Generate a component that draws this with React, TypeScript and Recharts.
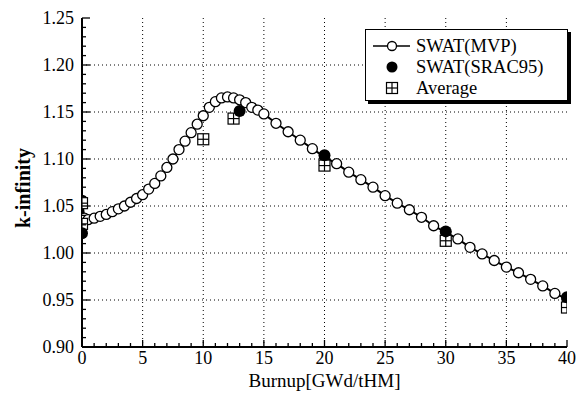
import React from "react";
import { ComposedChart, Line, Scatter, XAxis, YAxis, ReferenceLine } from "recharts";

const FONT = '"Liberation Serif", "Times New Roman", serif';

// SWAT(MVP) burnup curve
const mvpBurnup = [
  0, 0.2, 0.5, 1, 1.5, 2, 2.5, 3, 3.5, 4, 4.5, 5, 5.5, 6, 6.5, 7, 7.5, 8, 8.5, 9, 9.5, 10,
  10.5, 11, 11.5, 12, 12.5, 13, 13.5, 14, 14.5, 15, 16, 17, 18, 19, 20, 21, 22, 23, 24, 25,
  26, 27, 28, 29, 30, 31, 32, 33, 34, 35, 36, 37, 38, 39, 40,
];
const mvpK = [
  1.056, 1.037, 1.0355, 1.037, 1.039, 1.041, 1.044, 1.047, 1.05, 1.054, 1.058, 1.062, 1.068,
  1.074, 1.082, 1.091, 1.1, 1.11, 1.119, 1.128, 1.137, 1.146, 1.155, 1.161, 1.165, 1.166,
  1.165, 1.163, 1.16, 1.155, 1.152, 1.148, 1.138, 1.129, 1.12, 1.111, 1.102, 1.095, 1.086,
  1.078, 1.07, 1.061, 1.053, 1.046, 1.038, 1.029, 1.022, 1.015, 1.006, 0.999, 0.992, 0.985,
  0.979, 0.972, 0.965, 0.957, 0.951,
];

// SWAT(SRAC95)
const sracBurnup = [0, 13, 20, 30, 40];
const sracK = [1.021, 1.151, 1.104, 1.023, 0.953];

// Average
const avgBurnup = [0, 0, 10, 12.5, 20, 30, 40];
const avgK = [1.053, 1.031, 1.121, 1.143, 1.093, 1.013, 0.942];

const xMajor = [0, 5, 10, 15, 20, 25, 30, 35, 40];
const yMajor = [0.9, 0.95, 1.0, 1.05, 1.1, 1.15, 1.2, 1.25];
const xTicks = Array.from({ length: 41 }, (_, i) => i);
const yTicks = Array.from({ length: 36 }, (_, i) => (90 + i) / 100);

const mvpData = mvpBurnup.map((b, i) => ({ burnup: b, k: mvpK[i] }));
const sracData = sracBurnup.map((b, i) => ({ burnup: b, k: sracK[i] }));
const avgData = avgBurnup.map((b, i) => ({ burnup: b, k: avgK[i] }));

const isXMajor = (v: number) => v % 5 === 0;
const isYMajor = (v: number) => Math.round(v * 100) % 5 === 0;

const BottomTick = ({ x, y, payload }: any) => {
  const major = isXMajor(payload.value);
  return (
    <g>
      <line x1={x} x2={x} y1={y} y2={y - (major ? 7 : 4)} stroke="#000" strokeWidth={1.3} />
      {major && (
        <text x={x} y={y + 17} textAnchor="middle" fontSize={18} fontFamily={FONT} fill="#000">
          {payload.value}
        </text>
      )}
    </g>
  );
};

const TopTick = ({ x, y, payload }: any) => (
  <line x1={x} x2={x} y1={y} y2={y + (isXMajor(payload.value) ? 7 : 4)} stroke="#000" strokeWidth={1.3} />
);

const LeftTick = ({ x, y, payload }: any) => {
  const major = isYMajor(payload.value);
  return (
    <g>
      <line x1={x} x2={x + (major ? 8 : 4)} y1={y} y2={y} stroke="#000" strokeWidth={1.3} />
      {major && (
        <text x={x - 8} y={y + 6} textAnchor="end" fontSize={18} fontFamily={FONT} fill="#000">
          {payload.value.toFixed(2)}
        </text>
      )}
    </g>
  );
};

const RightTick = ({ x, y, payload }: any) => (
  <line x1={x} x2={x - (isYMajor(payload.value) ? 8 : 4)} y1={y} y2={y} stroke="#000" strokeWidth={1.3} />
);

const FilledDot = ({ cx, cy }: any) => <circle cx={cx} cy={cy} r={6} fill="#000" />;

const GridSquare = ({ cx, cy }: any) => {
  const h = 5.5;
  return (
    <g stroke="#000" strokeWidth={1.2}>
      <rect x={cx - h} y={cy - h} width={h * 2} height={h * 2} fill="#fff" />
      <line x1={cx - h} x2={cx + h} y1={cy} y2={cy} />
      <line x1={cx} x2={cx} y1={cy - h} y2={cy + h} />
    </g>
  );
};

function LegendBox() {
  return (
    <div
      style={{
        position: "absolute",
        left: 365,
        top: 29,
        width: 203,
        height: 72,
        border: "1.5px solid #000",
        boxShadow: "3px 3px 0 #000",
        background: "#fff",
        boxSizing: "border-box",
      }}
    >
      <svg width={200} height={69} style={{ display: "block" }}>
        <line x1={7} x2={44} y1={16} y2={16} stroke="#000" strokeWidth={1.5} />
        <circle cx={26} cy={16} r={4.5} fill="#fff" stroke="#000" strokeWidth={1.3} />
        <text x={50} y={22} fontSize={18.5} fontFamily={FONT}>SWAT(MVP)</text>
        <circle cx={26} cy={37} r={5.5} fill="#000" />
        <text x={50} y={43} fontSize={18.5} fontFamily={FONT}>SWAT(SRAC95)</text>
        <GridSquare cx={26} cy={58} />
        <text x={50} y={64} fontSize={18.5} fontFamily={FONT}>Average</text>
      </svg>
    </div>
  );
}

export default function App() {
  return (
    <div style={{ position: "absolute", left: 0, top: 0, width: 585, height: 398, background: "#fff" }}>
      <ComposedChart width={585} height={398} margin={{ top: 18, right: 18, bottom: 0, left: 0 }}>
        <XAxis
          dataKey="burnup"
          type="number"
          domain={[0, 40]}
          ticks={xTicks}
          interval={0}
          height={51}
          tickSize={0}
          tickMargin={0}
          tickLine={false}
          tick={BottomTick}
          axisLine={{ stroke: "#000", strokeWidth: 2 }}
          allowDataOverflow
          label={{
            content: ({ viewBox }: any) => (
              <text
                x={viewBox.x + viewBox.width / 2}
                y={viewBox.y + 40}
                textAnchor="middle"
                fontSize={19}
                fontFamily={FONT}
                fill="#000"
              >
                Burnup[GWd/tHM]
              </text>
            ),
          }}
        />
        <XAxis
          xAxisId="top"
          orientation="top"
          type="number"
          domain={[0, 40]}
          ticks={xTicks}
          interval={0}
          height={0}
          tickSize={0}
          tickMargin={0}
          tickLine={false}
          tick={TopTick}
          axisLine={{ stroke: "#000", strokeWidth: 2 }}
          allowDataOverflow
        />
        <YAxis
          dataKey="k"
          type="number"
          domain={[0.9, 1.25]}
          ticks={yTicks}
          interval={0}
          width={82}
          tickSize={0}
          tickMargin={0}
          tickLine={false}
          tick={LeftTick}
          axisLine={{ stroke: "#000", strokeWidth: 2 }}
          allowDataOverflow
          label={{
            content: () => (
              <text
                x={23}
                y={188}
                transform="rotate(-90 23 188)"
                textAnchor="middle"
                dominantBaseline="central"
                fontSize={20}
                fontWeight="bold"
                fontFamily={FONT}
                fill="#000"
              >
                k-infinity
              </text>
            ),
          }}
        />
        <YAxis
          yAxisId="right"
          orientation="right"
          type="number"
          domain={[0.9, 1.25]}
          ticks={yTicks}
          interval={0}
          width={0}
          tickSize={0}
          tickMargin={0}
          tickLine={false}
          tick={RightTick}
          axisLine={{ stroke: "#000", strokeWidth: 2 }}
          allowDataOverflow
        />
        {xMajor.slice(1, -1).map((v) => (
          <ReferenceLine key={"vx" + v} x={v} stroke="#000" strokeWidth={1} strokeDasharray="1 3" />
        ))}
        {yMajor.slice(1, -1).map((v) => (
          <ReferenceLine key={"hy" + v} y={v} stroke="#000" strokeWidth={1} strokeDasharray="1 3" />
        ))}
        <Line
          data={mvpData}
          dataKey="k"
          type="linear"
          stroke="#000"
          strokeWidth={2}
          dot={{ r: 5, fill: "#fff", stroke: "#000", strokeWidth: 1.3 }}
          isAnimationActive={false}
        />
        <Scatter data={avgData} dataKey="k" shape={GridSquare} isAnimationActive={false} />
        <Scatter data={sracData} dataKey="k" shape={FilledDot} isAnimationActive={false} />
      </ComposedChart>
      <LegendBox />
    </div>
  );
}
